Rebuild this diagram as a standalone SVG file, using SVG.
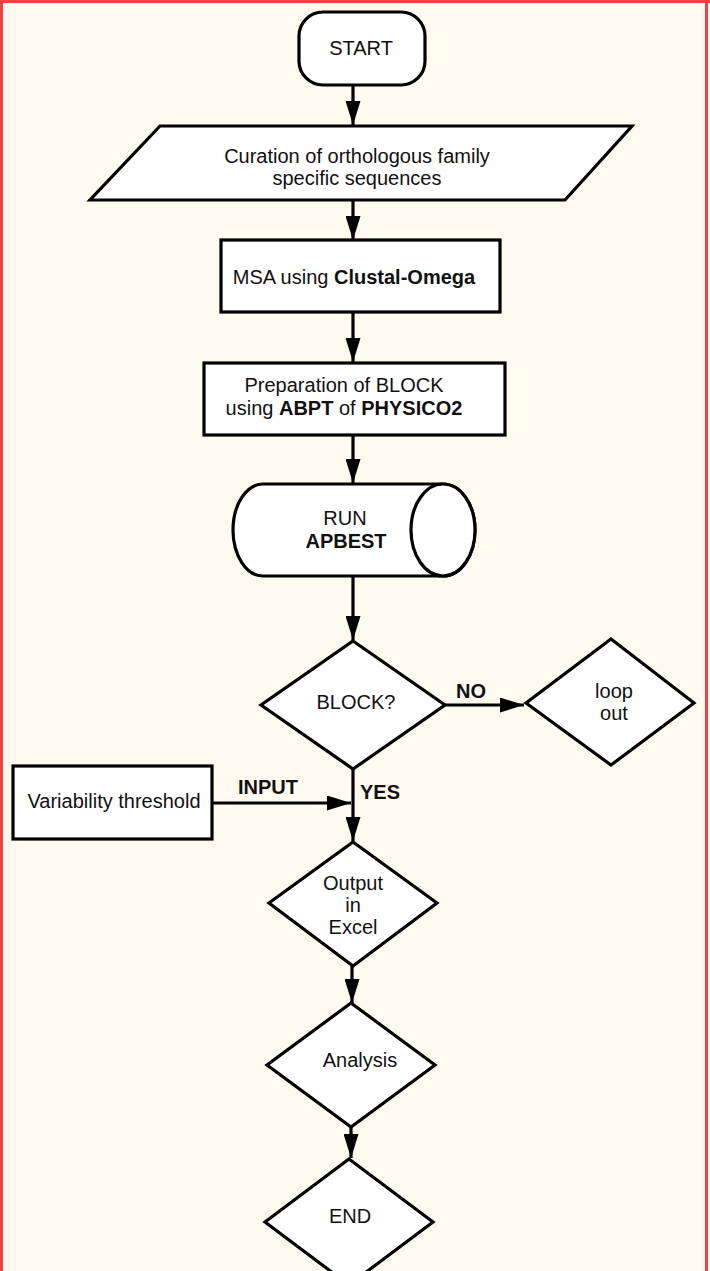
<svg xmlns="http://www.w3.org/2000/svg" width="710" height="1271" viewBox="0 0 710 1271">
<style>
.shape{fill:#ffffff;stroke:#000;stroke-width:3.2;stroke-linejoin:miter}
.line{fill:none;stroke:#000;stroke-width:3.2}
text{font-family:"Liberation Sans",Arial,sans-serif;font-size:20px;fill:#111}
.b{font-weight:bold}
.m{text-anchor:middle}
</style>
<defs>
<marker id="ah" viewBox="0 0 24 15" refX="24" refY="7.5" markerWidth="24" markerHeight="15" markerUnits="userSpaceOnUse" orient="auto">
<polygon points="0,0 24,7.5 0,15" fill="#000"/>
</marker>
</defs>
<rect x="0" y="0" width="710" height="1271" fill="#fffaf0"/>
<g id="border" fill="#f04444">
<rect x="0" y="0" width="3" height="1271"/>
<rect x="0" y="0" width="710" height="3"/>
<rect x="705" y="0" width="3" height="1271"/>
</g>
<g id="connectors">
<line class="line" x1="353" y1="85" x2="353" y2="125" marker-end="url(#ah)"/>
<line class="line" x1="353" y1="200" x2="353" y2="240" marker-end="url(#ah)"/>
<line class="line" x1="353" y1="312" x2="353" y2="362" marker-end="url(#ah)"/>
<line class="line" x1="353" y1="435" x2="353" y2="483" marker-end="url(#ah)"/>
<line class="line" x1="353" y1="576" x2="353" y2="640" marker-end="url(#ah)"/>
<line class="line" x1="445" y1="705" x2="524" y2="705" marker-end="url(#ah)"/>
<line class="line" x1="353" y1="769" x2="353" y2="841" marker-end="url(#ah)"/>
<line class="line" x1="212" y1="803" x2="351" y2="803" marker-end="url(#ah)"/>
<line class="line" x1="352" y1="966" x2="352" y2="1003" marker-end="url(#ah)"/>
<line class="line" x1="351" y1="1127" x2="351" y2="1158" marker-end="url(#ah)"/>
<text class="b" x="456" y="698">NO</text>
<text class="b" x="238" y="794">INPUT</text>
<text class="b" x="360" y="799">YES</text>
</g>
<g id="start">
<rect class="shape" x="299" y="12" width="126" height="73" rx="24" ry="24"/>
<text class="m" x="361" y="55">START</text>
</g>
<g id="curation">
<polygon class="shape" points="160,126 632,126 565,200 90,200"/>
<text class="m" x="357" y="163">Curation of orthologous family</text>
<text class="m" x="357" y="185">specific sequences</text>
</g>
<g id="msa">
<rect class="shape" x="221" y="240" width="279" height="72"/>
<text class="m" x="354" y="284">MSA using <tspan class="b">Clustal-Omega</tspan></text>
</g>
<g id="prep">
<rect class="shape" x="204" y="363" width="301" height="72"/>
<text class="m" x="344" y="392">Preparation of BLOCK</text>
<text class="m" x="344" y="415">using <tspan class="b">ABPT</tspan> of <tspan class="b">PHYSICO2</tspan></text>
</g>
<g id="run">
<path class="shape" d="M263,484 L443,484 A32,46 0 0 1 443,576 L263,576 A30,46 0 0 1 263,484 Z"/>
<ellipse class="shape" cx="443" cy="530" rx="32" ry="46"/>
<text class="m" x="345" y="525">RUN</text>
<text class="m b" x="346" y="548">APBEST</text>
</g>
<g id="block">
<polygon class="shape" points="353,641 445,705 353,769 261,705"/>
<text class="m" x="356" y="709">BLOCK?</text>
</g>
<g id="loopout">
<polygon class="shape" points="611,639 694,703 611,765 526,703"/>
<text class="m" x="614" y="698">loop</text>
<text class="m" x="614" y="720">out</text>
</g>
<g id="variability">
<rect class="shape" x="13" y="766" width="199" height="73"/>
<text class="m" x="114" y="808">Variability threshold</text>
</g>
<g id="output">
<polygon class="shape" points="353,842 437,903 353,966 269,903"/>
<text class="m" x="353" y="890">Output</text>
<text class="m" x="353" y="912">in</text>
<text class="m" x="353" y="934">Excel</text>
</g>
<g id="analysis">
<polygon class="shape" points="351,1003 435,1065 351,1127 267,1065"/>
<text class="m" x="360" y="1067">Analysis</text>
</g>
<g id="end">
<polygon class="shape" points="349,1159 433,1222 349,1285 265,1222"/>
<text class="m" x="350" y="1223">END</text>
</g>
</svg>
